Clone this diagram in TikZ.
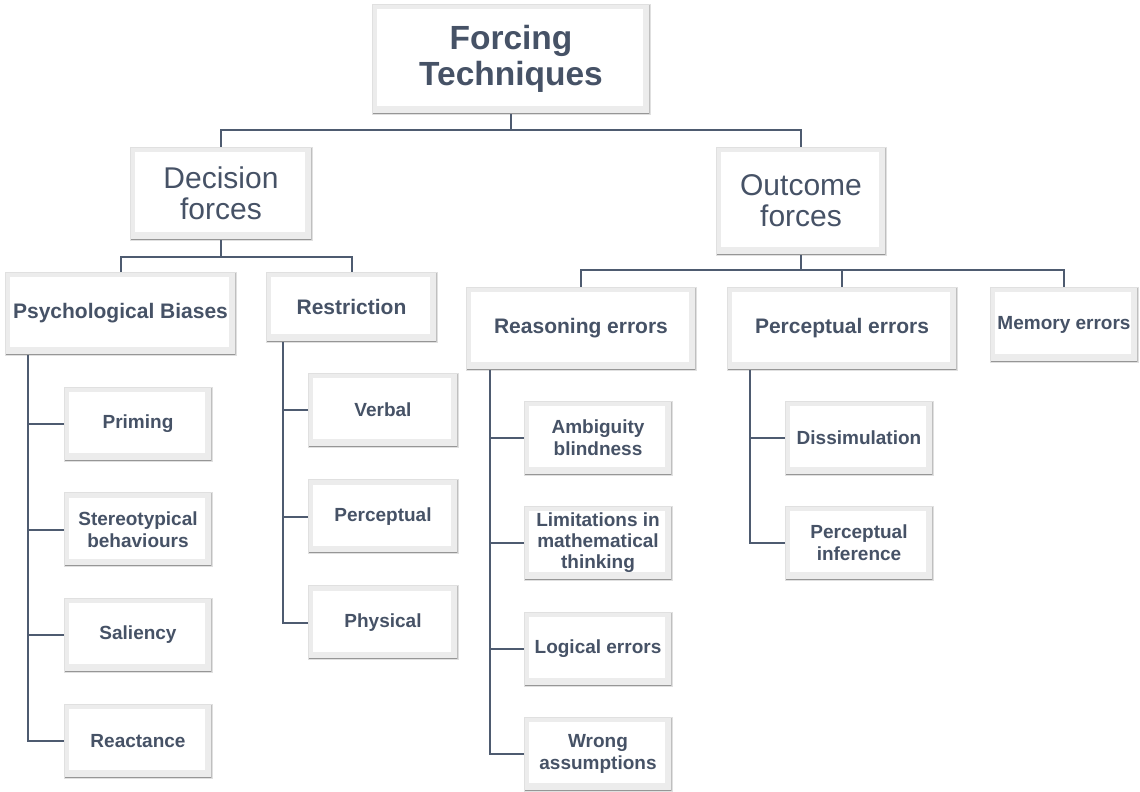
\documentclass[tikz,border=0pt]{standalone}
\usepackage{fontspec}
\setmainfont{Liberation Sans}
\usepackage{tikz}
\usetikzlibrary{calc}

\definecolor{txt}{RGB}{70,82,102}
\definecolor{wire}{RGB}{78,91,112}
\definecolor{bevel}{RGB}{236,236,236}
\definecolor{rim}{RGB}{150,150,150}

\tikzset{
  card/.style={rectangle, fill=bevel, draw=black!12, text=txt, align=center,
    inner sep=0pt,
    font=\fontsize{19}{22}\selectfont\bfseries,
    path picture={
      \fill[white] ([shift={(5pt,-5pt)}]path picture bounding box.north west)
        rectangle ([shift={(-7pt,8pt)}]path picture bounding box.south east);
      \draw[rim, line width=3pt] (path picture bounding box.south west)
        -- (path picture bounding box.south east);
      \draw[black!25, line width=2pt] (path picture bounding box.south east)
        -- (path picture bounding box.north east);
    }},
  leaf/.style={card, minimum width=148pt, minimum height=74pt},
  group/.style={card, font=\fontsize{21}{24}\selectfont\bfseries},
  head/.style={card, font=\fontsize{30}{31}\selectfont},
  link/.style={wire, line width=2pt}
}

\begin{document}
\begin{tikzpicture}[x=1pt,y=-1pt]
\useasboundingbox[fill=white] (0,0) rectangle (1140,792);

% top and second level
\node[card, minimum width=278pt, minimum height=110pt,
      font=\fontsize{33.5}{36}\selectfont\bfseries] (top) at (511,59) {Forcing\\Techniques};
\node[head, minimum width=182pt, minimum height=93pt] (dec) at (221,193.5) {Decision\\forces};
\node[head, minimum width=170pt, minimum height=108pt] (out) at (801,201) {Outcome\\forces};

\draw[link] (top.south) -- ++(0,16) -| (dec.north);
\draw[link] (top.south) -- ++(0,16) -| (out.north);

% third level
\node[group, minimum width=231pt, minimum height=83pt] (psy) at (120.5,313.5) {Psychological Biases};
\node[group, minimum width=171pt, minimum height=70pt] (res) at (351.5,307) {Restriction};
\node[group, minimum width=230pt, minimum height=83pt] (rea) at (581,328.5) {Reasoning errors};
\node[group, minimum width=230pt, minimum height=83pt] (per) at (842,328.5) {Perceptual errors};
\node[card, minimum width=148pt, minimum height=75pt] (mem) at (1064,324.5) {Memory errors};

\draw[link] (dec.south) -- ++(0,17) -| (psy.north);
\draw[link] (dec.south) -- ++(0,17) -| (res.north);
\draw[link] (out.south) -- ++(0,15) -| (rea.north);
\draw[link] (out.south) -- ++(0,15) -| (per.north);
\draw[link] (out.south) -- ++(0,15) -| (mem.north);

% leaves
\node[leaf] (prim) at (138,424) {Priming};
\node[leaf] (ster) at (138,529.5) {Stereotypical\\behaviours};
\node[leaf] (sal)  at (138,635) {Saliency};
\node[leaf] (reac) at (138,741) {Reactance};

\node[leaf, minimum width=150pt] (verb) at (383,410) {Verbal};
\node[leaf, minimum width=150pt] (perc) at (383,516.5) {Perceptual};
\node[leaf, minimum width=150pt] (phys) at (383,622.5) {Physical};

\node[leaf] (amb)  at (598,438) {Ambiguity\\blindness};
\node[leaf, font=\fontsize{19}{21}\selectfont\bfseries] (lim) at (598,543) {Limitations in\\mathematical\\thinking};
\node[leaf] (log)  at (598,649) {Logical errors};
\node[leaf] (wro)  at (598,754) {Wrong\\assumptions};

\node[leaf] (diss) at (859,438) {Dissimulation};
\node[leaf] (pinf) at (859,543) {Perceptual\\inference};

\foreach \c in {prim,ster,sal,reac}
  \draw[link] ([xshift=23pt]psy.south west) |- (\c.west);
\foreach \c in {verb,perc,phys}
  \draw[link] ([xshift=17pt]res.south west) |- (\c.west);
\foreach \c in {amb,lim,log,wro}
  \draw[link] ([xshift=24pt]rea.south west) |- (\c.west);
\foreach \c in {diss,pinf}
  \draw[link] ([xshift=23pt]per.south west) |- (\c.west);
\end{tikzpicture}
\end{document}
